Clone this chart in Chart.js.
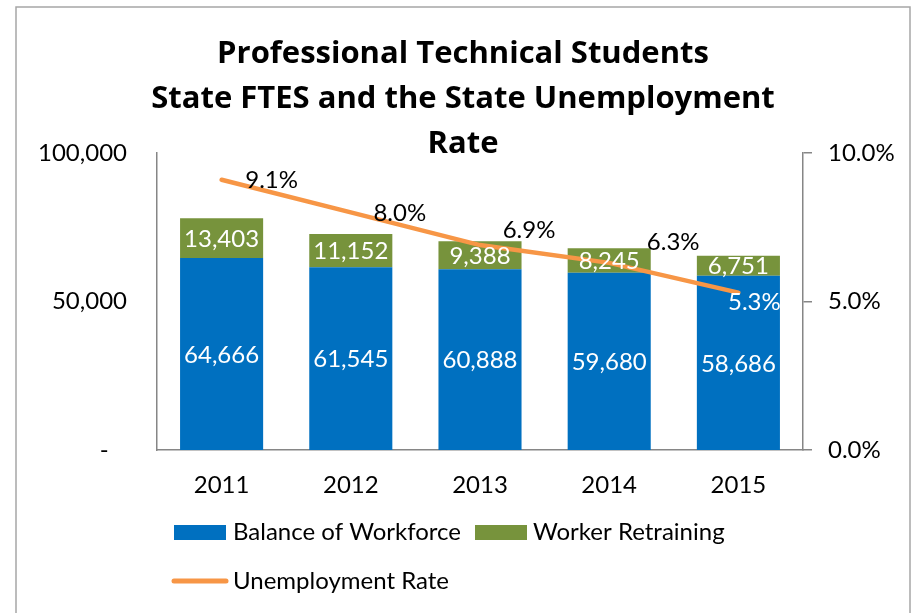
<!DOCTYPE html>
<html>
<head>
<meta charset="utf-8">
<script src="https://cdn.jsdelivr.net/npm/chart.js@4.4.1/dist/chart.umd.min.js"></script>
<style>
  html, body { margin: 0; padding: 0; background: #ffffff; }
  #wrap { width: 917px; height: 613px; }
</style>
</head>
<body>
<div id="wrap"><canvas id="c" width="917" height="613"></canvas></div>
<script>
const years = ['2011', '2012', '2013', '2014', '2015'];
const balanceOfWorkforce = [64666, 61545, 60888, 59680, 58686];
const workerRetraining = [13403, 11152, 9388, 8245, 6751];
const unemploymentRate = [9.1, 8.0, 6.9, 6.3, 5.3];
const leftTicks = [0, 50000, 100000];
const rightTicks = [0, 5, 10];
const titleLines = ['Professional Technical Students', 'State FTES and the State Unemployment', 'Rate'];

const FONT = 'Lato, "Noto Sans", sans-serif';
const TFONT = '"Open Sans", "Noto Sans", sans-serif';
const FS = 24;
const AXIS = '#868686';
const BLUE = '#0070C0', GREEN = '#77933C', ORANGE = '#F79646';

const fmt = v => v.toLocaleString('en-US');

const decorPlugin = {
  id: 'decor',
  beforeDraw(chart) {
    const ctx = chart.ctx;
    ctx.save();
    ctx.fillStyle = '#fff';
    ctx.fillRect(0, 0, chart.width, chart.height);
    ctx.strokeStyle = '#A6A6A6';
    ctx.lineWidth = 1.5;
    ctx.strokeRect(16, 7, 894, 640);
    ctx.restore();
  },
  afterDraw(chart) {
    const ctx = chart.ctx;
    ctx.save();
    // title
    ctx.fillStyle = '#000';
    ctx.font = 'bold 31px ' + TFONT;
    ctx.textAlign = 'center';
    ctx.textBaseline = 'alphabetic';
    const base = [63, 108, 153];
    titleLines.forEach((t, i) => ctx.fillText(t, 463, base[i]));
    // legend
    const ds = chart.data.datasets;
    ctx.font = FS + 'px ' + FONT;
    ctx.textAlign = 'left';
    ctx.fillStyle = ds[0].backgroundColor;
    ctx.fillRect(174, 525, 52, 15);
    ctx.fillStyle = '#000';
    ctx.fillText(ds[0].label, 233, 540);
    ctx.fillStyle = ds[1].backgroundColor;
    ctx.fillRect(475, 525, 52, 15);
    ctx.fillStyle = '#000';
    ctx.fillText(ds[1].label, 533, 540);
    ctx.strokeStyle = ds[2].borderColor;
    ctx.lineWidth = 5;
    ctx.lineCap = 'round';
    ctx.beginPath();
    ctx.moveTo(174, 581);
    ctx.lineTo(226, 581);
    ctx.stroke();
    ctx.fillStyle = '#000';
    ctx.fillText(ds[2].label, 233, 589);
    ctx.restore();
  },
  afterDatasetsDraw(chart) {
    const ctx = chart.ctx;
    ctx.save();
    ctx.font = FS + 'px ' + FONT;
    ctx.textAlign = 'center';
    ctx.textBaseline = 'middle';
    [0, 1].forEach(di => {
      const meta = chart.getDatasetMeta(di);
      meta.data.forEach((el, i) => {
        const v = chart.data.datasets[di].data[i];
        ctx.fillStyle = '#fff';
        ctx.fillText(fmt(v), el.x, (el.y + el.base) / 2 + 1);
      });
    });
    const lmeta = chart.getDatasetMeta(2);
    const offs = [[50, 1], [49, 1], [49, -15], [64, -21], [16, 10]];
    const cols = ['#000', '#000', '#000', '#000', '#fff'];
    lmeta.data.forEach((el, i) => {
      const v = chart.data.datasets[2].data[i];
      ctx.fillStyle = cols[i];
      ctx.fillText(v.toFixed(1) + '%', el.x + offs[i][0], el.y + offs[i][1]);
    });
    ctx.restore();
  }
};

new Chart(document.getElementById('c'), {
  data: {
    labels: years,
    datasets: [
      { type: 'bar', label: 'Balance of Workforce', data: balanceOfWorkforce, backgroundColor: BLUE, yAxisID: 'y', order: 1, stack: 's' },
      { type: 'bar', label: 'Worker Retraining', data: workerRetraining, backgroundColor: GREEN, yAxisID: 'y', order: 2, stack: 's' },
      { type: 'line', label: 'Unemployment Rate', data: unemploymentRate, borderColor: ORANGE, backgroundColor: ORANGE, borderWidth: 4.5, pointRadius: 0, tension: 0, yAxisID: 'y1', order: 0, borderCapStyle: 'round' }
    ]
  },
  options: {
    responsive: false,
    animation: false,
    devicePixelRatio: 1,
    layout: { padding: { top: 153, left: 0, right: 0, bottom: 0 } },
    plugins: { legend: { display: false }, title: { display: false }, tooltip: { enabled: false } },
    datasets: { bar: { categoryPercentage: 1, barPercentage: 0.643 } },
    scales: {
      x: {
        stacked: true,
        grid: { display: false, drawTicks: false },
        border: { display: true, color: AXIS, width: 1.5 },
        ticks: { color: '#000', font: { family: FONT, size: FS }, padding: 21 },
        afterFit: s => { s.height = 163; }
      },
      y: {
        position: 'left',
        stacked: true,
        min: 0, max: 100000,
        afterBuildTicks: s => { s.ticks = leftTicks.map(v => ({ value: v })); },
        grid: { display: false, drawTicks: false },
        border: { display: true, color: AXIS, width: 1.5 },
        ticks: { color: '#000', font: { family: FONT, size: FS }, padding: 30, callback: v => v === 0 ? '-   ' : fmt(v) },
        afterFit: s => { s.width = 157; }
      },
      y1: {
        position: 'right',
        min: 0, max: 10,
        afterBuildTicks: s => { s.ticks = rightTicks.map(v => ({ value: v })); },
        grid: { display: true, drawOnChartArea: false, drawTicks: true, tickLength: 9, color: AXIS, lineWidth: 1.5 },
        border: { display: true, color: AXIS, width: 1.5 },
        ticks: { color: '#000', font: { family: FONT, size: FS }, padding: 16, callback: v => v.toFixed(1) + '%' },
        afterFit: s => { s.width = 114; }
      }
    }
  },
  plugins: [decorPlugin]
});
</script>
</body>
</html>
